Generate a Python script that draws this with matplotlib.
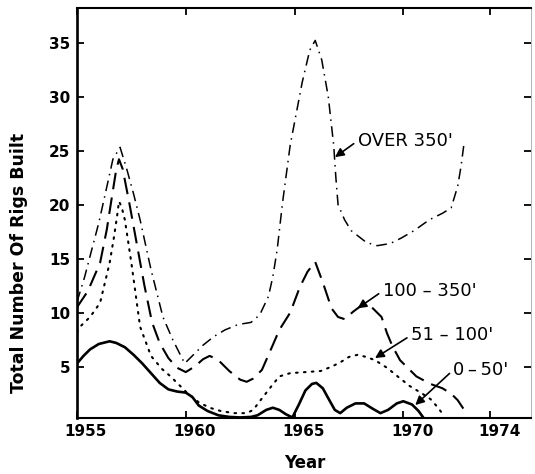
import matplotlib
matplotlib.use('Agg')
import matplotlib.pyplot as plt
from matplotlib.transforms import ScaledTranslation

plt.rcParams['font.family'] = 'DejaVu Sans'

# Rigs built per year
over350_x = [1955.0, 1955.35, 1955.7, 1956.0, 1956.3, 1956.65, 1956.98, 1957.3, 1957.6, 1957.9,
             1958.4, 1958.95, 1959.4, 1959.95, 1960.3, 1960.8, 1961.3, 1961.8, 1962.4, 1963.0,
             1963.4, 1963.8, 1964.0, 1964.2, 1964.45, 1964.8, 1965.35, 1965.7, 1965.95, 1966.25,
             1966.55, 1966.8, 1966.9, 1967.0, 1967.3, 1967.6, 1968.3, 1968.8, 1969.4, 1969.9,
             1970.5, 1971.2, 1971.8, 1972.2, 1972.5, 1972.65, 1972.8]
over350_y = [11.0, 13.3, 16.0, 18.3, 21.0, 24.2, 25.3, 23.2, 21.0, 18.6,
             14.0, 9.6, 7.5, 5.3, 6.0, 7.0, 7.8, 8.4, 8.9, 9.1,
             9.8, 11.5, 13.3, 15.8, 20.2, 25.5, 31.3, 34.3, 35.2, 33.4,
             30.0, 25.5, 22.5, 20.0, 18.6, 17.6, 16.5, 16.2, 16.4, 16.9,
             17.6, 18.6, 19.2, 19.7, 21.7, 23.5, 25.8]

mid_x = [1955.0, 1955.5, 1955.8, 1956.06, 1956.37, 1956.65, 1956.8, 1956.93, 1957.1, 1957.4,
         1957.8, 1958.1, 1958.45, 1958.8, 1959.2, 1959.6, 1960.0, 1960.4, 1960.8, 1961.1,
         1961.5, 1962.0, 1962.5, 1962.8, 1963.1, 1963.5, 1964.0, 1964.3, 1964.8, 1965.25,
         1965.6, 1965.95, 1966.3, 1966.7, 1967.0, 1967.3, 1967.7, 1968.1, 1968.5, 1969.0,
         1969.25, 1969.5, 1969.85, 1970.6, 1971.25, 1971.8, 1972.2, 1972.5, 1972.8, 1972.95]
mid_y = [10.5, 12.0, 13.4, 14.6, 17.7, 21.3, 23.2, 24.2, 23.3, 20.2,
         15.8, 12.5, 9.1, 7.2, 5.8, 4.9, 4.5, 5.0, 5.7, 6.0,
         5.6, 4.6, 3.8, 3.6, 3.9, 4.7, 7.0, 8.4, 10.0, 12.4,
         13.8, 14.7, 12.8, 10.4, 9.6, 9.4, 10.1, 10.7, 10.6, 9.6,
         8.1, 6.9, 5.6, 4.1, 3.4, 3.0, 2.5, 1.9, 1.0, 0.5]

low_x = [1955.0, 1955.14, 1955.6, 1956.06, 1956.5, 1956.7, 1956.84, 1956.93, 1957.05, 1957.2,
         1957.5, 1957.9, 1958.4, 1958.9, 1959.3, 1959.7, 1960.1, 1960.6, 1961.1, 1961.6,
         1962.2, 1962.8, 1963.1, 1963.4, 1963.9, 1964.3, 1964.8, 1965.5, 1966.2, 1966.7,
         1967.1, 1967.5, 1967.9, 1968.3, 1968.7, 1969.25, 1969.8, 1970.3, 1970.8, 1971.25,
         1971.6, 1971.85]
low_y = [8.2, 8.7, 9.6, 10.9, 14.6, 17.0, 18.9, 20.3, 19.8, 18.6,
         14.6, 8.7, 6.0, 4.8, 4.1, 3.3, 2.5, 1.7, 1.2, 0.9,
         0.7, 0.7, 1.0, 1.8, 3.1, 4.1, 4.4, 4.5, 4.6, 5.0,
         5.4, 5.9, 6.1, 5.9, 5.6, 4.9, 4.0, 3.2, 2.6, 2.0,
         1.2, 0.5]

shallow_x = [1955.0, 1955.3, 1955.6, 1956.0, 1956.5, 1956.8, 1957.2, 1957.6, 1958.0, 1958.4,
             1958.8, 1959.2, 1959.6, 1960.0, 1960.3, 1960.6, 1961.0, 1961.5, 1962.0, 1962.5,
             1963.0, 1963.3, 1963.7, 1964.0, 1964.3, 1964.6, 1964.9, 1965.2, 1965.5, 1965.8,
             1966.0, 1966.3, 1966.6, 1966.85, 1967.1, 1967.4, 1967.8, 1968.2, 1968.6, 1968.95,
             1969.3, 1969.7, 1970.0, 1970.4, 1970.7, 1970.95]
shallow_y = [5.3, 6.0, 6.6, 7.1, 7.35, 7.2, 6.8, 6.1, 5.3, 4.4,
             3.5, 2.9, 2.7, 2.6, 2.2, 1.4, 0.9, 0.5, 0.35, 0.3,
             0.35, 0.5, 1.0, 1.2, 1.0, 0.6, 0.3, 1.5, 2.8, 3.4,
             3.5, 3.0, 1.9, 1.0, 0.7, 1.2, 1.6, 1.6, 1.1, 0.7,
             1.0, 1.6, 1.8, 1.5, 0.9, 0.2]

year_ticks = [1955, 1960, 1965, 1970, 1974]
count_ticks = [5, 10, 15, 20, 25, 30, 35]

fig = plt.figure(figsize=(5.35, 4.74), dpi=100)
ax = fig.add_axes([77 / 535, 1 - 418 / 474, 454 / 535, 410 / 474])
ax.set_xlim(1955, 1975.87)
ax.set_ylim(0.25, 38.2)

ax.plot(over350_x, over350_y, color='black', lw=1.1,
        linestyle=(0, (7, 3.5, 1, 3.5)))
ax.plot(mid_x, mid_y, color='black', lw=1.5, linestyle=(0, (8, 4)))
ax.plot(low_x, low_y, color='black', lw=1.5, linestyle=(0, (0.8, 3.0)),
        dash_capstyle='round')
ax.plot(shallow_x, shallow_y, color='black', lw=1.9, solid_capstyle='round')

# labels with arrows
arrow = dict(arrowstyle='-|>', color='black', lw=1.2, mutation_scale=13,
             shrinkA=1, shrinkB=0, relpos=(0, 0.5))
ax.annotate("OVER 350'", xy=(1966.86, 24.4), xytext=(1967.9, 25.9),
            fontsize=13, ha='left', va='center', arrowprops=arrow)
ax.annotate("100 – 350'", xy=(1967.9, 10.4), xytext=(1969.05, 12.0),
            fontsize=13, ha='left', va='center', arrowprops=arrow)
ax.annotate("51 – 100'", xy=(1968.7, 5.8), xytext=(1970.35, 7.9),
            fontsize=13, ha='left', va='center', arrowprops=arrow)
ax.annotate("0\u2009–\u200950'", xy=(1970.55, 1.45), xytext=(1972.3, 4.7),
            fontsize=13, ha='left', va='center', arrowprops=arrow)

# frame
ax.spines['left'].set_linewidth(1.9)
ax.spines['bottom'].set_linewidth(1.5)
ax.spines['top'].set_linewidth(1.5)
ax.spines['right'].set_linewidth(0.6)
ax.spines['right'].set_color('#aaaaaa')

ax.set_xticks(year_ticks)
ax.set_xticklabels([])
ax.set_yticks(count_ticks)
ax.set_yticklabels([str(c) for c in count_ticks], fontweight='bold')
ax.tick_params(direction='in', length=5, width=1.3, top=True, right=True,
               labelsize=11, pad=5)

# year labels sit a little right of their ticks in the original
lab_tr = ax.get_xaxis_transform() + ScaledTranslation(9 / 100, -14 / 100, fig.dpi_scale_trans)
for yr in year_ticks:
    ax.text(yr, 0, str(yr), transform=lab_tr, ha='center', va='center',
            fontsize=11, fontweight='bold')

ax.text(-0.128, 0.378, 'Total Number Of Rigs Built', transform=ax.transAxes,
        rotation=90, ha='center', va='center', fontsize=12.5, fontweight='bold')
ax.text(0.502, -0.11, 'Year', transform=ax.transAxes, ha='center', va='center',
        fontsize=12, fontweight='bold')

fig.savefig('out.png', dpi=100, facecolor='white')
